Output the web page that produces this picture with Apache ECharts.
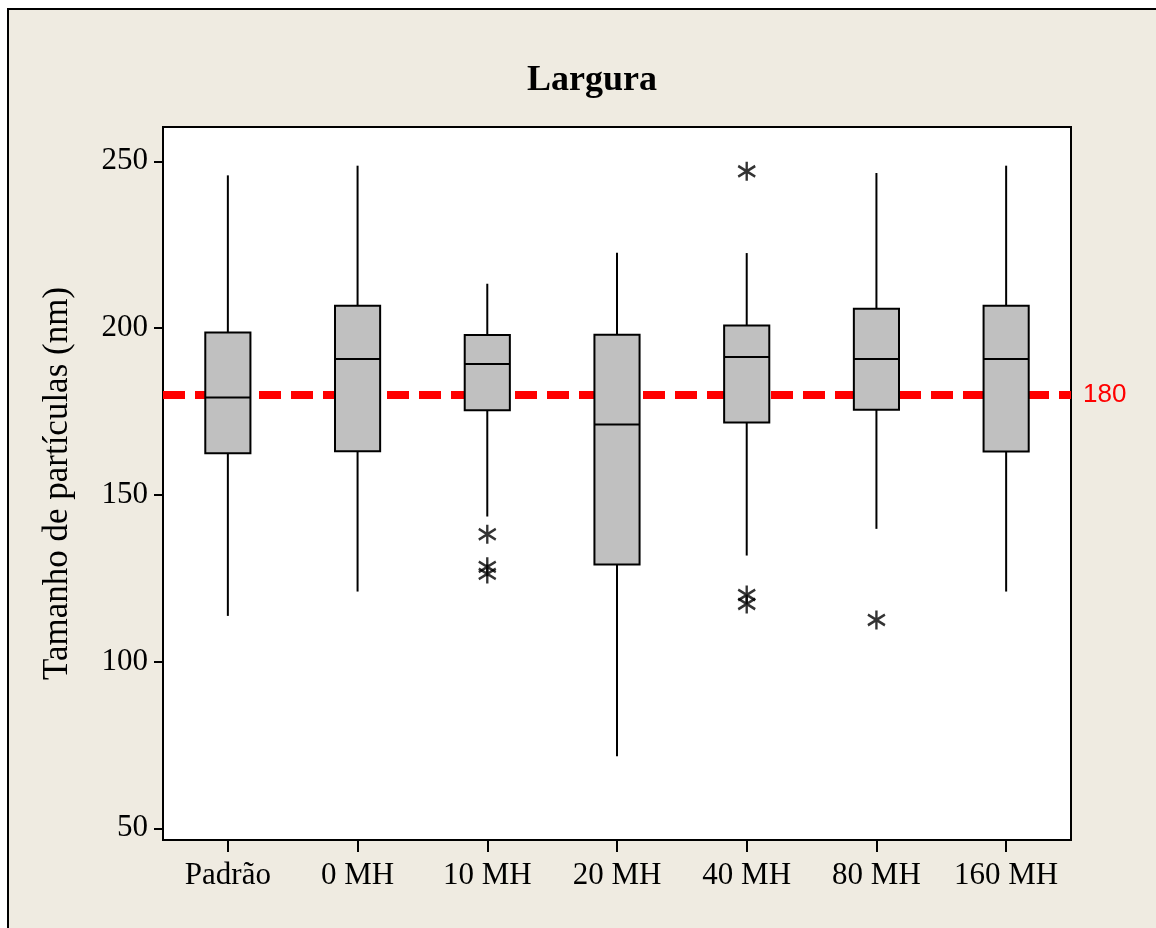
<!DOCTYPE html>
<html>
<head>
<meta charset="utf-8">
<title>Largura</title>
<script src="https://cdn.jsdelivr.net/npm/echarts@6/dist/echarts.min.js"></script>
<style>
  html, body { margin: 0; padding: 0; background: #ffffff; }
  #chart { width: 1156px; height: 928px; }
</style>
</head>
<body>
<div id="chart"></div>
<script>
// Particle width per treatment: five-number summaries and outliers (nm)
const categories   = ['Padrão', '0 MH', '10 MH', '20 MH', '40 MH', '80 MH', '160 MH'];
const lowerWhisker = [113.7, 121.0, 143.5, 71.6, 131.8, 139.8, 121.0];
const q1Values     = [162.5, 163.1, 175.4, 129.1, 171.7, 175.5, 163.0];
const medians      = [179.2, 190.7, 189.2, 171.1, 191.3, 190.7, 190.7];
const q3Values     = [198.7, 206.7, 197.9, 198.0, 200.8, 205.8, 206.7];
const upperWhisker = [245.8, 248.7, 213.3, 222.6, 222.5, 246.5, 248.7];
const outliers = [
  ['10 MH', 138.2], ['10 MH', 128.4], ['10 MH', 126.3],
  ['40 MH', 247.0], ['40 MH', 120.0], ['40 MH', 117.3],
  ['80 MH', 112.5]
];
const yTicks = [50, 100, 150, 200, 250];
const referenceValue = 180;

const serif = '"Liberation Serif", "Times New Roman", serif';

const boxData = categories.map((c, i) => [i, lowerWhisker[i], q1Values[i], medians[i], q3Values[i], upperWhisker[i]]);

// Minitab-style box: plain whiskers without end caps, grey box, median bar
function renderBox(params, api) {
  const idx = api.value(0);
  const low = api.coord([idx, api.value(1)]);
  const q1 = api.coord([idx, api.value(2)]);
  const med = api.coord([idx, api.value(3)]);
  const q3 = api.coord([idx, api.value(4)]);
  const high = api.coord([idx, api.value(5)]);
  const bandW = api.size([1, 0])[0];
  const halfW = bandW * 0.174;
  const x = low[0];
  const stroke = { stroke: '#000', lineWidth: 2 };
  return {
    type: 'group',
    children: [
      { type: 'line', shape: { x1: x, y1: high[1], x2: x, y2: q3[1] }, style: stroke },
      { type: 'line', shape: { x1: x, y1: q1[1], x2: x, y2: low[1] }, style: stroke },
      { type: 'rect', shape: { x: x - halfW, y: q3[1], width: halfW * 2, height: q1[1] - q3[1] },
        style: { fill: '#c0c0c0', stroke: '#000', lineWidth: 2 } },
      { type: 'line', shape: { x1: x - halfW, y1: med[1], x2: x + halfW, y2: med[1] }, style: stroke }
    ]
  };
}

const chart = echarts.init(document.getElementById('chart'), null, { renderer: 'canvas' });

chart.setOption({
  backgroundColor: '#ffffff',
  animation: false,
  graphic: [{
    type: 'rect',
    z: -100,
    shape: { x: 8, y: 9, width: 1160, height: 930 },
    style: { fill: '#efebe1', stroke: '#000', lineWidth: 2 }
  }],
  title: {
    text: 'Largura',
    left: 587,
    top: 58,
    textAlign: 'center',
    textStyle: { fontFamily: serif, fontWeight: 'bold', fontSize: 36, color: '#000' }
  },
  grid: {
    left: 163, right: 85, top: 127, bottom: 88,
    show: true,
    backgroundColor: '#ffffff',
    borderColor: '#000',
    borderWidth: 2
  },
  xAxis: {
    type: 'category',
    data: categories,
    boundaryGap: true,
    axisLine: { show: true, lineStyle: { color: '#000', width: 2 } },
    axisTick: { show: true, alignWithLabel: true, length: 12, lineStyle: { color: '#000', width: 2 } },
    axisLabel: { color: '#000', fontFamily: serif, fontSize: 31, margin: 20, interval: 0 },
    splitLine: { show: false }
  },
  yAxis: {
    type: 'value',
    min: 46.5,
    max: 260.3,
    name: 'Tamanho de partículas (nm)',
    nameLocation: 'middle',
    nameRotate: 90,
    nameGap: 88,
    nameTextStyle: { color: '#000', fontFamily: serif, fontSize: 35 },
    axisLine: { show: true, lineStyle: { color: '#000', width: 2 } },
    axisTick: { show: true, length: 9, customValues: yTicks, lineStyle: { color: '#000', width: 2 } },
    axisLabel: { color: '#000', fontFamily: serif, fontSize: 31, margin: 15, customValues: yTicks },
    splitLine: { show: false }
  },
  series: [
    {
      type: 'line',
      data: [],
      z: 1,
      silent: true,
      markLine: {
        z: 1,
        silent: true,
        symbol: 'none',
        data: [{ yAxis: referenceValue }],
        lineStyle: { color: '#ff0000', width: 8, type: [22, 10] },
        label: {
          show: true,
          position: 'end',
          distance: 12,
          formatter: String(referenceValue),
          color: '#ff0000',
          fontFamily: '"Liberation Sans Narrow", "Arial Narrow", sans-serif',
          fontSize: 26
        }
      }
    },
    {
      type: 'custom',
      z: 3,
      renderItem: renderBox,
      encode: { x: 0, y: [1, 2, 3, 4, 5] },
      data: boxData
    },
    {
      type: 'scatter',
      z: 4,
      data: outliers,
      symbol: 'path://M0,-8 L0,8 M-7,-4.5 L7,4.5 M-7,4.5 L7,-4.5',
      symbolSize: [17, 19],
      itemStyle: { color: 'rgba(0,0,0,0)', borderColor: '#000', borderWidth: 2.5 }
    }
  ]
});
</script>
</body>
</html>
